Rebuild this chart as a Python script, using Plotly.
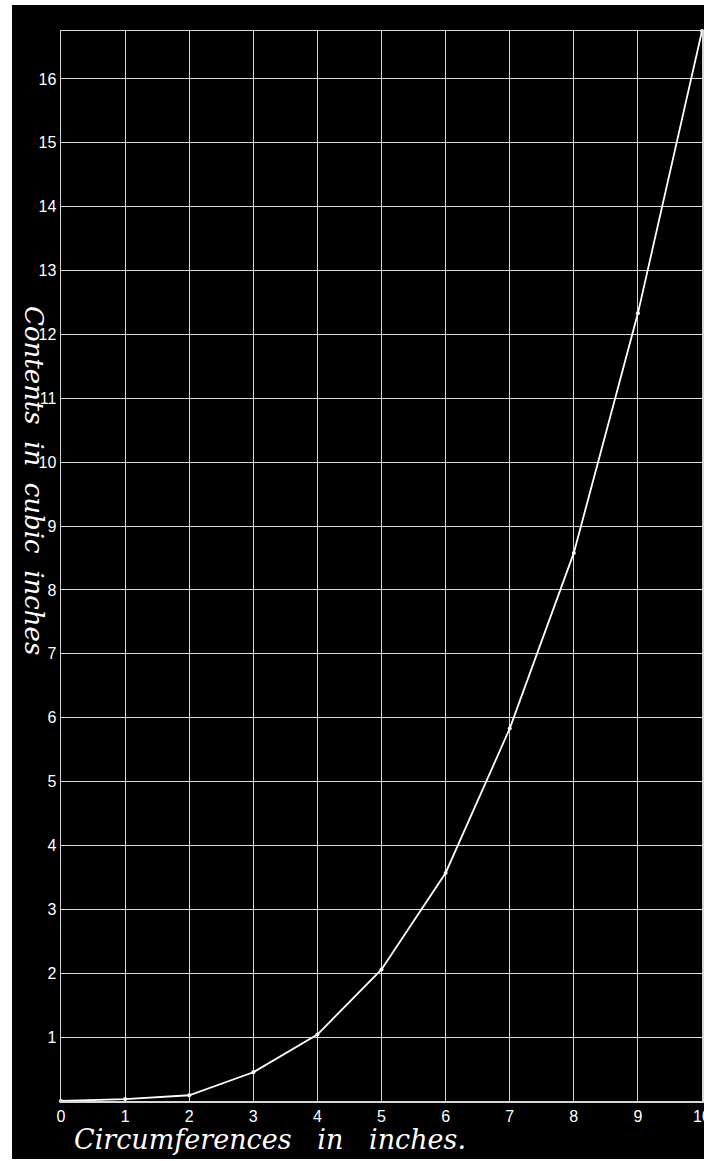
import plotly.graph_objects as go

# Data
circumference = [0, 1, 2, 3, 4, 5, 6, 7, 8, 9, 10]
contents = [0, 0.03, 0.09, 0.45, 1.04, 2.06, 3.57, 5.83, 8.58, 12.33, 16.75]
x_ticks = [0, 1, 2, 3, 4, 5, 6, 7, 8, 9, 10]
y_ticks = list(range(1, 17))
x_title = "Circumferences\u00a0\u00a0\u00a0in\u00a0\u00a0\u00a0inches."
y_title = "Contents\u00a0\u00a0in\u00a0\u00a0cubic\u00a0\u00a0inches"

W, H = 704, 1161
ML, MR, MT, MB = 61, 2, 31, 60
PW, PH = W - ML - MR, H - MT - MB

def px_x(px):
    return (px - ML) / PW

def px_y(py):
    return (H - MB - py) / PH

grid_col = "#d8d8d8"
tick_font = dict(family="Liberation Sans, Arial", size=16, color="white")
x_title_font = dict(family="DejaVu Serif", size=27, color="white")
y_title_font = dict(family="DejaVu Serif", size=26, color="white")

fig = go.Figure()
fig.add_trace(go.Scatter(
    x=circumference, y=contents, mode="lines+markers",
    line=dict(color="white", width=1.8),
    marker=dict(color="white", size=4),
    cliponaxis=False, showlegend=False, hoverinfo="skip",
))

fig.update_layout(
    width=W, height=H, autosize=False,
    margin=dict(l=ML, r=MR, t=MT, b=MB, autoexpand=False),
    paper_bgcolor="black", plot_bgcolor="black",
    xaxis=dict(
        range=[0, 10], tickmode="array", tickvals=x_ticks,
        ticktext=[str(v) for v in x_ticks],
        showgrid=True, gridcolor=grid_col, gridwidth=1,
        showline=True, linecolor=grid_col, linewidth=1.5, mirror=True,
        zeroline=False, ticks="", ticklabeloverflow="allow", automargin=False,
        tickfont=tick_font, fixedrange=True,
    ),
    yaxis=dict(
        range=[0, 16.75], tickmode="array", tickvals=y_ticks,
        ticktext=[str(v) for v in y_ticks],
        showgrid=True, gridcolor=grid_col, gridwidth=1,
        showline=True, linecolor=grid_col, linewidth=1.5, mirror=True,
        zeroline=False, ticks="", ticklabeloverflow="allow", automargin=False,
        tickfont=tick_font, fixedrange=True,
    ),
    shapes=[
        dict(type="rect", xref="paper", yref="paper",
             x0=px_x(0), x1=px_x(12), y0=px_y(H), y1=px_y(0),
             fillcolor="white", line=dict(width=0), layer="above"),
        dict(type="rect", xref="paper", yref="paper",
             x0=px_x(0), x1=px_x(W), y0=px_y(5), y1=px_y(0),
             fillcolor="white", line=dict(width=0), layer="above"),
        dict(type="rect", xref="paper", yref="paper",
             x0=px_x(0), x1=px_x(W), y0=px_y(H), y1=px_y(1159),
             fillcolor="white", line=dict(width=0), layer="above"),
    ],
    annotations=[
        dict(text="<i>" + x_title + "</i>", xref="paper", yref="paper",
             x=px_x(72), y=px_y(1139), xanchor="left", yanchor="middle",
             showarrow=False, font=x_title_font),
        dict(text="<i>" + y_title + "</i>", xref="paper", yref="paper",
             x=px_x(34), y=px_y(480), xanchor="center", yanchor="middle",
             textangle=90, showarrow=False, font=y_title_font),
    ],
)

fig.write_html(
    "out.html",
    config={"displayModeBar": False, "staticPlot": True},
    post_script="document.body.style.margin='0';document.body.style.overflow='hidden';",
)
